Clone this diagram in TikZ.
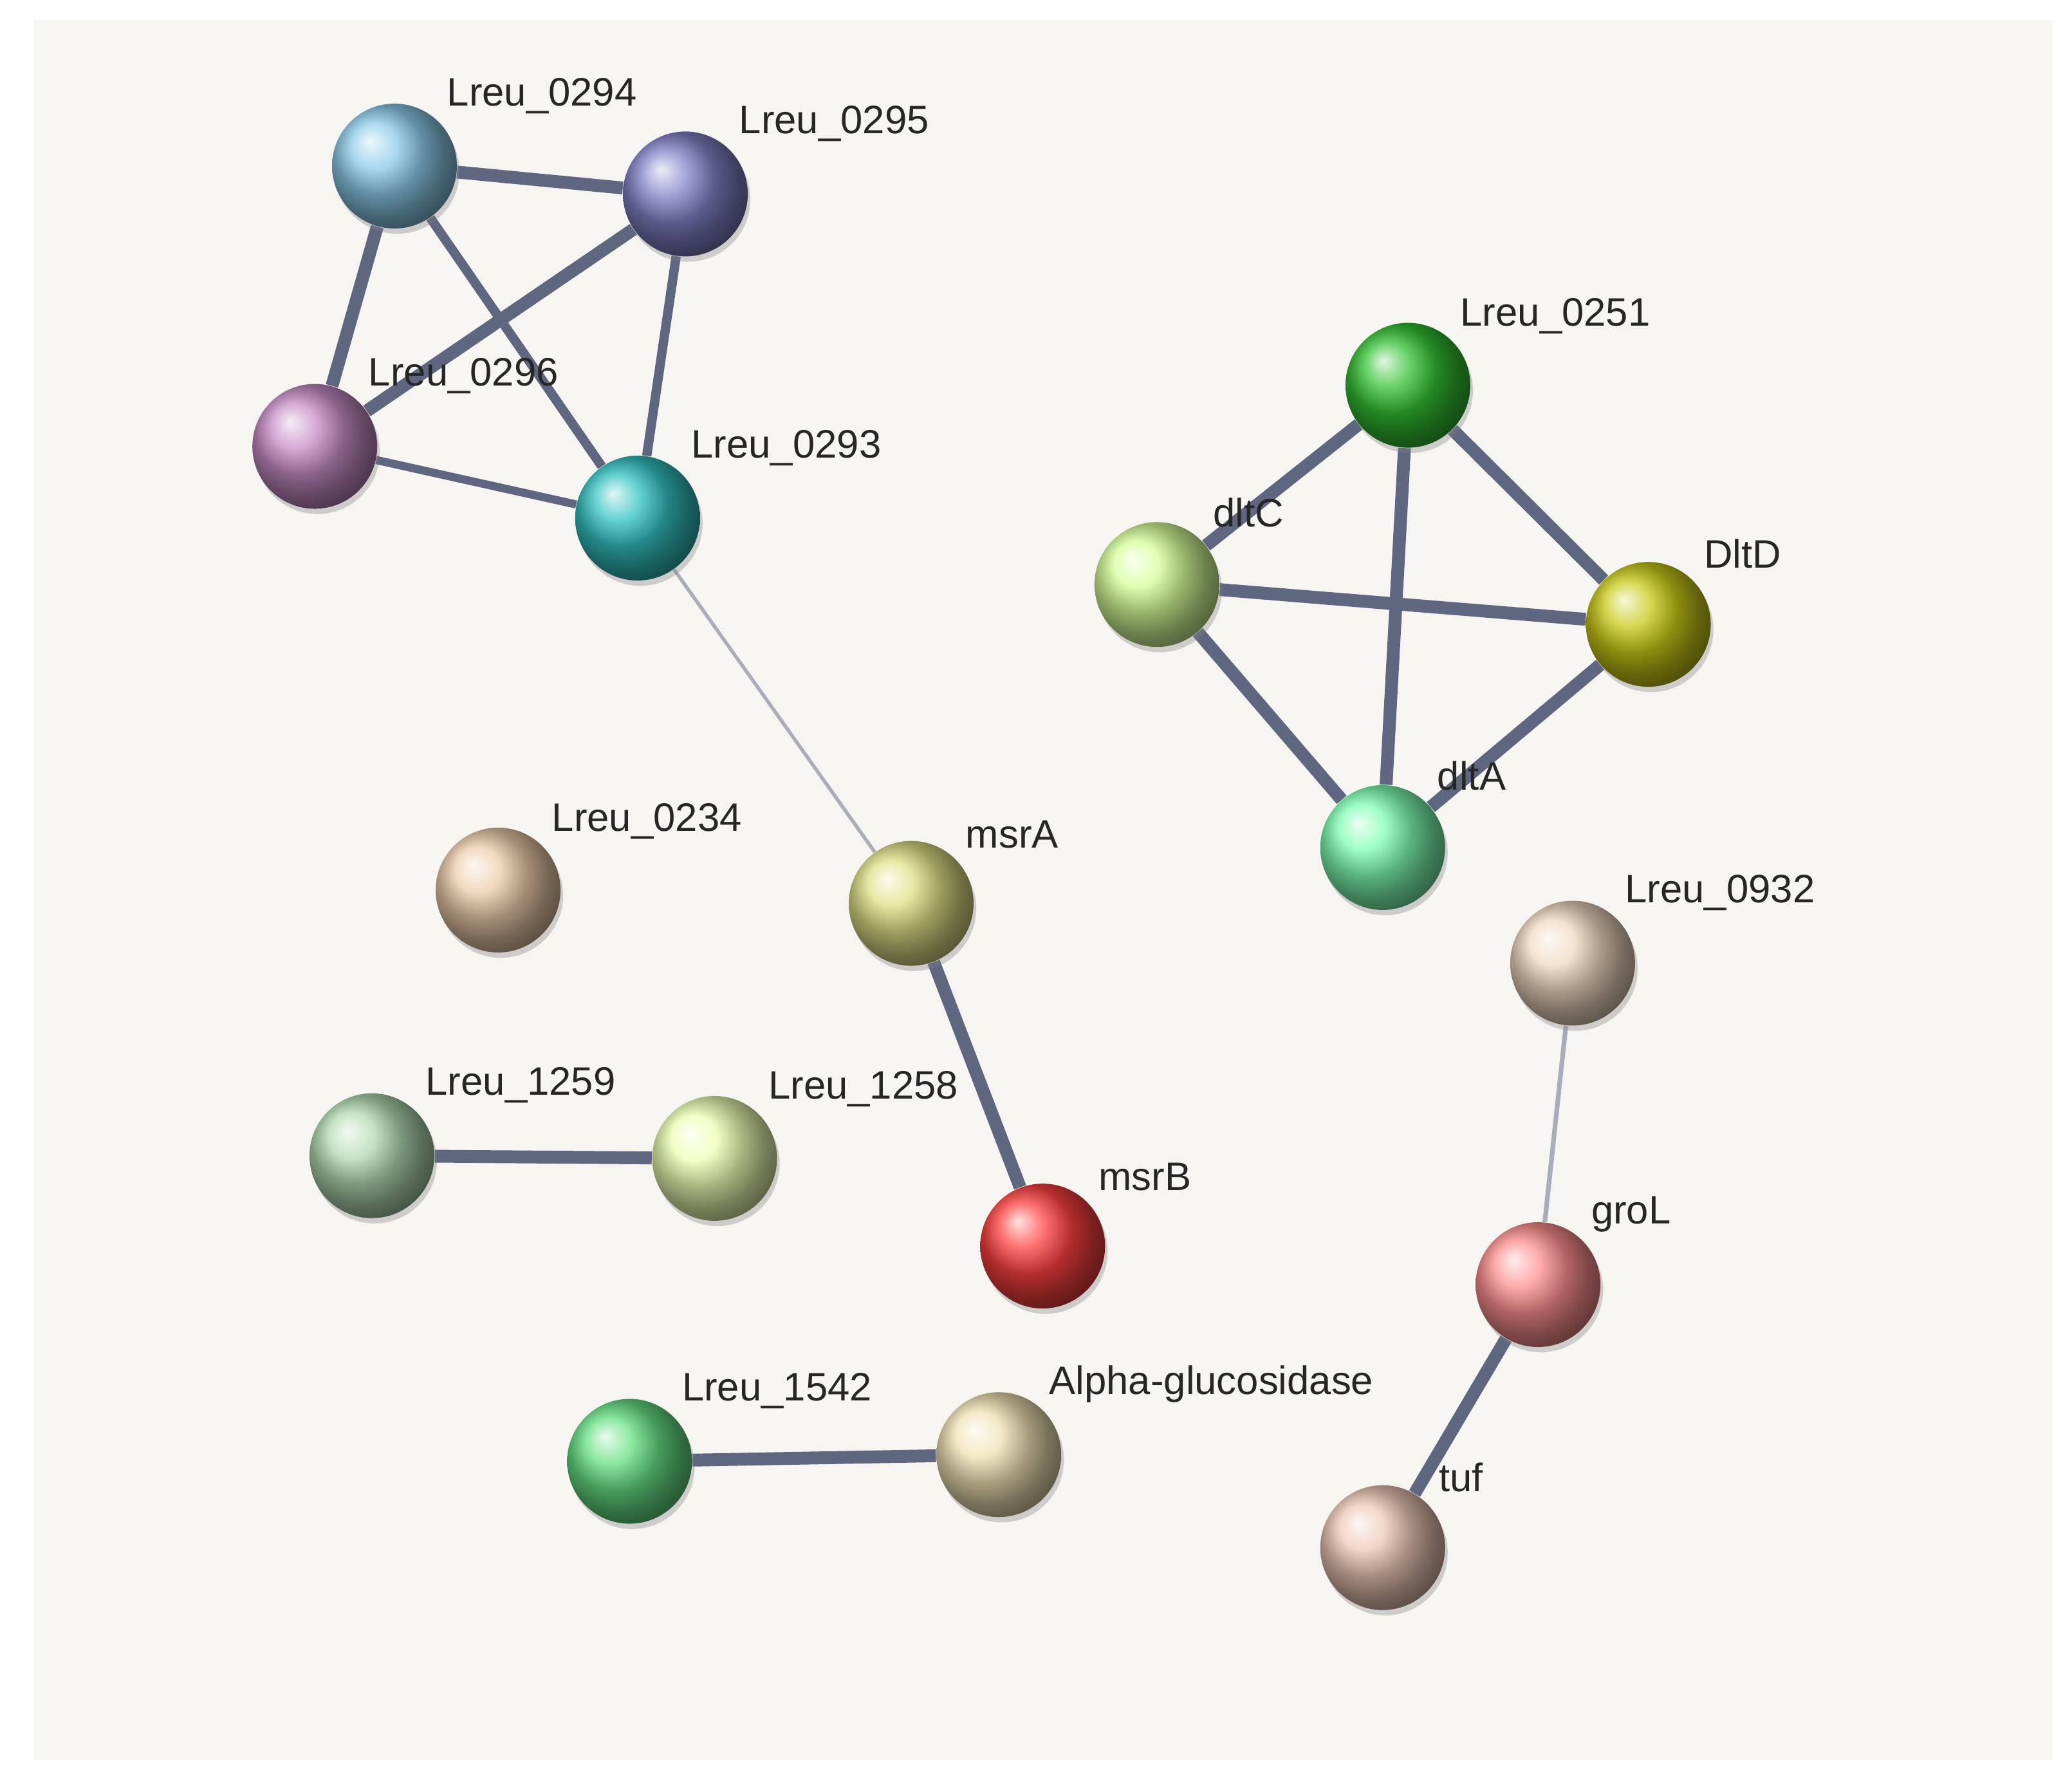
\documentclass[tikz,border=0pt]{standalone}
\usepackage{fontspec}
\setmainfont{Liberation Sans}
\usetikzlibrary{backgrounds,shadows}
\definecolor{panel}{HTML}{F7F5F2}
\definecolor{edge}{HTML}{5E6680}
\definecolor{thin}{HTML}{A9ADBA}
\definecolor{sky}{HTML}{8CCBEA}
\begin{document}
\begin{tikzpicture}[x=0.02cm,y=-0.02cm,
  ball/.style={circle,minimum size=1.88cm,inner sep=0pt,ball color=#1,
     drop shadow={shadow xshift=0.04cm,shadow yshift=-0.08cm,opacity=0.35}},
  lab/.style={font=\fontsize{17}{20}\selectfont,text=black!85},
  e/.style={draw=edge,line width=5.5pt},
  t/.style={draw=thin,line width=1.5pt}]
\useasboundingbox (0,0) rectangle (1560,1336);
\begin{pgfonlayer}{background}
\fill[white] (0,0) rectangle (1560,1336);
\fill[panel] (25,15) rectangle (1545,1325);
\end{pgfonlayer}
\node[ball=sky] (a294) at (297,125) {};
\node[ball={blue!40!gray!70!white}] (a295) at (516,146) {};
\node[ball={violet!45!white}] (a296) at (237,336) {};
\node[ball={teal!60!cyan!80!white}] (a293) at (480,390) {};
\node[ball={green!70!black!80!white}] (a251) at (1060,290) {};
\node[ball={green!40!yellow!40!white}] (dltC) at (871,440) {};
\node[ball={olive!60!yellow!70!white}] (DltD) at (1241,470) {};
\node[ball={cyan!40!green!50!white}] (dltA) at (1041,638) {};
\node[ball={orange!30!brown!40!white}] (a234) at (375,670) {};
\node[ball={yellow!30!olive!35!white}] (msrA) at (686,680) {};
\node[ball={green!35!gray!45!white}] (a1259) at (280,870) {};
\node[ball={green!25!yellow!30!white}] (a1258) at (538,872) {};
\node[ball={red!75!white}] (msrB) at (785,938) {};
\node[ball={orange!25!brown!30!white}] (a932) at (1184,725) {};
\node[ball={red!40!pink!80!white}] (groL) at (1158,967) {};
\node[ball={green!60!teal!60!white}] (a1542) at (474,1100) {};
\node[ball={yellow!35!brown!35!white}] (alpha) at (752,1095) {};
\node[ball={red!25!brown!35!white}] (tuf) at (1041,1165) {};
\node[lab] at (408,72) {Lreu\_0294};
\node[lab] at (628,93) {Lreu\_0295};
\node[lab] at (349,283) {Lreu\_0296};
\node[lab] at (592,337) {Lreu\_0293};
\node[lab] at (1171,238) {Lreu\_0251};
\node[lab] at (940,386) {dltC};
\node[lab] at (1312,417) {DltD};
\node[lab] at (1108,584) {dltA};
\node[lab] at (487,618) {Lreu\_0234};
\node[lab] at (762,628) {msrA};
\node[lab] at (392,817) {Lreu\_1259};
\node[lab] at (650,820) {Lreu\_1258};
\node[lab] at (862,886) {msrB};
\node[lab] at (1295,672) {Lreu\_0932};
\node[lab] at (1228,914) {groL};
\node[lab] at (585,1047) {Lreu\_1542};
\node[lab] at (912,1042) {Alpha-glucosidase};
\node[lab] at (1100,1112) {tuf};
\begin{pgfonlayer}{background}
\draw[e] (a294) -- (a295);
\draw[e] (a294) -- (a296);
\draw[e,line width=4pt] (a294) -- (a293);
\draw[e] (a295) -- (a296);
\draw[e,line width=4pt] (a295) -- (a293);
\draw[e,line width=3.5pt] (a296) -- (a293);
\draw[e] (a251) -- (dltC);
\draw[e] (a251) -- (DltD);
\draw[e] (a251) -- (dltA);
\draw[e] (dltC) -- (DltD);
\draw[e] (dltC) -- (dltA);
\draw[e] (DltD) -- (dltA);
\draw[t] (a293) -- (msrA);
\draw[e] (msrA) -- (msrB);
\draw[e] (a1259) -- (a1258);
\draw[t,line width=2pt] (a932) -- (groL);
\draw[e] (groL) -- (tuf);
\draw[e] (a1542) -- (alpha);
\end{pgfonlayer}
\end{tikzpicture}
\end{document}
